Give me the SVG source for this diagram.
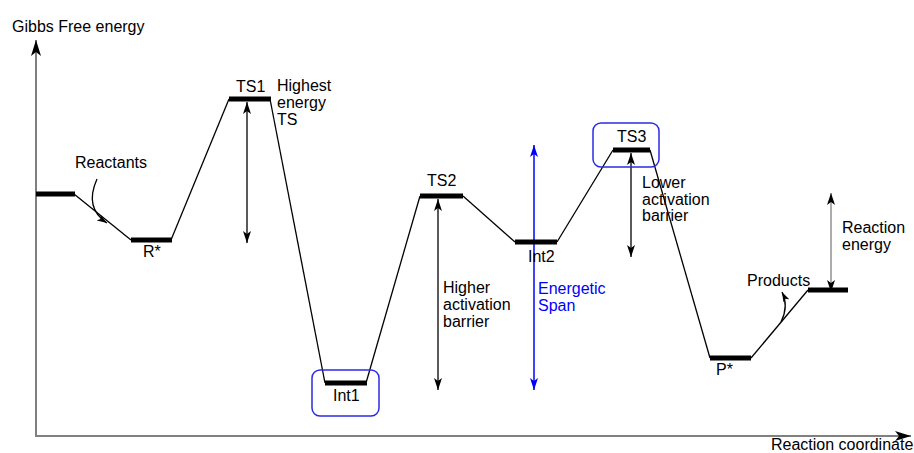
<svg xmlns="http://www.w3.org/2000/svg" width="914" height="453" viewBox="0 0 914 453">
<style>
text{font-family:"Liberation Sans",Arial,sans-serif;font-size:16px;fill:#000}
.blue{fill:#0000ff}
.bar{stroke:#000;stroke-width:5;fill:none}
.conn{stroke:#000;stroke-width:1.3;fill:none}
.axis{stroke:#808080;stroke-width:2;fill:none}
.arr{stroke:#000;stroke-width:1.3;fill:none;marker-start:url(#ah);marker-end:url(#ah)}
.box{stroke:#2b2be6;stroke-width:1.5;fill:none}
</style>
<defs>
<marker id="ah" viewBox="0 0 12 8" refX="12" refY="4" markerWidth="12" markerHeight="8" markerUnits="userSpaceOnUse" orient="auto-start-reverse"><path d="M0,0 L12,4 L0,8 L3,4 z" fill="#000"/></marker>
<marker id="ahb" viewBox="0 0 12 8" refX="12" refY="4" markerWidth="12" markerHeight="8" markerUnits="userSpaceOnUse" orient="auto-start-reverse"><path d="M0,0 L12,4 L0,8 L3,4 z" fill="#0000ff"/></marker>
<marker id="ahs" viewBox="0 0 12 8" refX="12" refY="4" markerWidth="10" markerHeight="7" markerUnits="userSpaceOnUse" orient="auto"><path d="M0,0 L12,4 L0,8 L3,4 z" fill="#000"/></marker>
<marker id="ahx" viewBox="0 0 16 10" refX="16" refY="5" markerWidth="16" markerHeight="10" markerUnits="userSpaceOnUse" orient="auto"><path d="M0,0 L16,5 L0,10 L4,5 z" fill="#000"/></marker>
</defs>
<g id="axes">
<line class="axis" x1="36" y1="437" x2="36" y2="40" style="marker-end:url(#ahx)"/>
<line class="axis" x1="35" y1="436" x2="911" y2="436" style="marker-end:url(#ahx)"/>
<text x="12" y="32">Gibbs Free energy</text>
<text x="771" y="450">Reaction coordinate</text>
</g>
<g id="connectors">
<polyline class="conn" points="74,194 131,240"/>
<polyline class="conn" points="171,240 229,99"/>
<polyline class="conn" points="270,99 325,383"/>
<polyline class="conn" points="366,383 420,196"/>
<polyline class="conn" points="463,196 515,242"/>
<polyline class="conn" points="557,242 613,150"/>
<polyline class="conn" points="650,150 710,358"/>
<polyline class="conn" points="751,358 808,290"/>
<path class="conn" d="M97,179 Q84,208 107,223" style="marker-end:url(#ahs)"/>
<path class="conn" d="M781,322 Q789,306 782,292" style="marker-end:url(#ahs)"/>
<line class="arr" x1="247" y1="102" x2="247" y2="243"/>
<line class="arr" x1="438" y1="199" x2="438" y2="390"/>
<line class="arr" x1="631" y1="153" x2="631" y2="257"/>
<line class="arr" x1="831" y1="193" x2="831" y2="292" style="stroke:#808080"/>
<line x1="534" y1="145" x2="534" y2="390" stroke="#0000ff" stroke-width="1.5" style="marker-start:url(#ahb);marker-end:url(#ahb)"/>
</g>
<g id="reactants">
<line class="bar" x1="36" y1="194" x2="75" y2="194"/>
<text x="75" y="168">Reactants</text>
</g>
<g id="rstar">
<line class="bar" x1="131" y1="240" x2="172" y2="240"/>
<text x="143" y="257">R*</text>
</g>
<g id="ts1">
<line class="bar" x1="229" y1="99" x2="271" y2="99"/>
<text x="236" y="92">TS1</text>
<text x="277" y="91">Highest</text>
<text x="277" y="108">energy</text>
<text x="277" y="125">TS</text>
</g>
<g id="int1">
<rect class="box" x="312" y="370" width="67" height="46" rx="8"/>
<line class="bar" x1="325" y1="383" x2="367" y2="383"/>
<text x="333" y="401">Int1</text>
</g>
<g id="ts2">
<line class="bar" x1="420" y1="196" x2="463" y2="196"/>
<text x="427" y="186">TS2</text>
<text x="443" y="293">Higher</text>
<text x="443" y="310">activation</text>
<text x="443" y="327">barrier</text>
</g>
<g id="int2">
<line class="bar" x1="515" y1="242" x2="557" y2="242"/>
<text x="528" y="262">Int2</text>
</g>
<g id="span">
<text class="blue" x="538" y="294">Energetic</text>
<text class="blue" x="538" y="311">Span</text>
</g>
<g id="ts3">
<rect class="box" x="593" y="123" width="66" height="44" rx="8"/>
<line class="bar" x1="613" y1="150" x2="650" y2="150"/>
<text x="617" y="142">TS3</text>
<text x="642" y="188">Lower</text>
<text x="642" y="205">activation</text>
<text x="642" y="221">barrier</text>
</g>
<g id="pstar">
<line class="bar" x1="710" y1="358" x2="751" y2="358"/>
<text x="716" y="375">P*</text>
</g>
<g id="products">
<line class="bar" x1="808" y1="290" x2="848" y2="290"/>
<text x="747" y="286">Products</text>
<text x="842" y="233">Reaction</text>
<text x="842" y="250">energy</text>
</g>
</svg>
